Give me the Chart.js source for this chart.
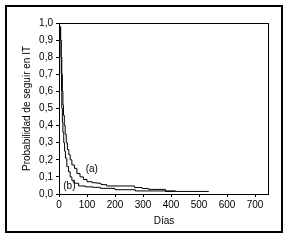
<!DOCTYPE html>
<html><head><meta charset="utf-8">
<script src="https://cdn.jsdelivr.net/npm/chart.js@4/dist/chart.umd.min.js"></script>
<style>html,body{margin:0;padding:0;background:#fff}#wrap{width:290px;height:245px}</style>
</head><body><div id="wrap"><canvas id="c" width="290" height="245"></canvas></div>
<script>
// Curve (a)
const daysA = [6, 8, 10, 12, 14, 16, 19, 22, 26, 30, 35, 40, 46, 55, 64, 75, 87, 100, 118, 135, 150, 170, 270, 297, 320, 380, 415, 535];
const survA = [0.98, 0.9, 0.8, 0.7, 0.6, 0.52, 0.46, 0.4, 0.35, 0.3, 0.26, 0.23, 0.2, 0.17, 0.15, 0.12, 0.1, 0.085, 0.072, 0.066, 0.063, 0.055, 0.047, 0.038, 0.032, 0.027, 0.015, 0.015];
// Curve (b)
const daysB = [5, 7, 8, 9, 10, 12, 14, 17, 20, 23, 28, 34, 40, 46, 55, 70, 94, 120, 148, 200, 273, 393, 417];
const survB = [0.98, 0.9, 0.8, 0.7, 0.6, 0.5, 0.42, 0.36, 0.3, 0.25, 0.21, 0.16, 0.13, 0.1, 0.08, 0.063, 0.047, 0.042, 0.039, 0.033, 0.025, 0.018, 0.018];

const xTicks = [0, 100, 200, 300, 400, 500, 600, 700];
const yTickLabels = ['0,0','0,1','0,2','0,3','0,4','0,5','0,6','0,7','0,8','0,9','1,0'];
const curveLabels = ['(a)', '(b)'];
const labelDays = [117, 37];
const labelSurv = [0.143, 0.044];

const FONT = {family: '"Liberation Sans", Arial, sans-serif', size: 10};

const toPts = (xs, ys) => xs.map((d, i) => ({x: d, y: ys[i]}));

const framePlugin = {
  id: 'frame',
  beforeDraw(chart) {
    const ctx = chart.ctx;
    ctx.save();
    ctx.fillStyle = '#fff';
    ctx.fillRect(0, 0, chart.width, chart.height);
    ctx.strokeStyle = '#000';
    ctx.lineWidth = 2;
    ctx.strokeRect(6, 6, 276, 226);
    ctx.restore();
  },
  afterDraw(chart) {
    const ctx = chart.ctx;
    const a = chart.chartArea;
    ctx.save();
    ctx.strokeStyle = '#000';
    ctx.lineWidth = 1;
    ctx.strokeRect(a.left + 0.5, a.top + 0.5, a.right - a.left - 1, a.bottom - a.top);
    ctx.restore();
  },
  afterDatasetsDraw(chart) {
    const ctx = chart.ctx, xs = chart.scales.x, ys = chart.scales.y;
    ctx.save();
    ctx.fillStyle = '#000';
    ctx.font = '10px "Liberation Sans", Arial, sans-serif';
    ctx.textAlign = 'center';
    ctx.textBaseline = 'middle';
    curveLabels.forEach((t, i) => ctx.fillText(t, xs.getPixelForValue(labelDays[i]), ys.getPixelForValue(labelSurv[i])));
    ctx.restore();
  }
};

const gridOpts = {display: true, drawOnChartArea: false, drawTicks: true, tickLength: 3, color: '#000', lineWidth: 1};

new Chart(document.getElementById('c'), {
  type: 'line',
  data: {
    datasets: [
      {label: '(a)', data: toPts(daysA, survA), borderColor: '#000', borderWidth: 1, pointRadius: 0, stepped: 'after', fill: false, tension: 0},
      {label: '(b)', data: toPts(daysB, survB), borderColor: '#000', borderWidth: 1, pointRadius: 0, stepped: 'after', fill: false, tension: 0}
    ]
  },
  options: {
    responsive: false,
    animation: false,
    devicePixelRatio: 1,
    layout: {padding: {left: 0, right: 21, top: 23, bottom: 0}},
    plugins: {legend: {display: false}, tooltip: {enabled: false}},
    scales: {
      x: {
        type: 'linear', min: 0, max: 750,
        afterBuildTicks: s => { s.ticks = xTicks.map(v => ({value: v})); },
        afterFit: s => { s.height = 51; },
        ticks: {color: '#000', font: FONT, padding: 2, maxRotation: 0, callback: v => String(v)},
        grid: gridOpts,
        border: {display: false},
        title: {display: true, text: 'Días', color: '#000', font: FONT, padding: {top: 0, bottom: 17.5}}
      },
      y: {
        type: 'linear', min: 0, max: 1,
        afterBuildTicks: s => { s.ticks = yTickLabels.map(l => ({value: parseFloat(l.replace(',', '.'))})); },
        afterFit: s => { s.width = 59; },
        ticks: {color: '#000', font: FONT, padding: 3, callback: (v, i) => yTickLabels[i]},
        grid: gridOpts,
        border: {display: false},
        title: {display: true, text: 'Probabilidad de seguir en IT', color: '#000', font: FONT, padding: {top: 21, bottom: 0}}
      }
    }
  },
  plugins: [framePlugin]
});
</script>
</body></html>
